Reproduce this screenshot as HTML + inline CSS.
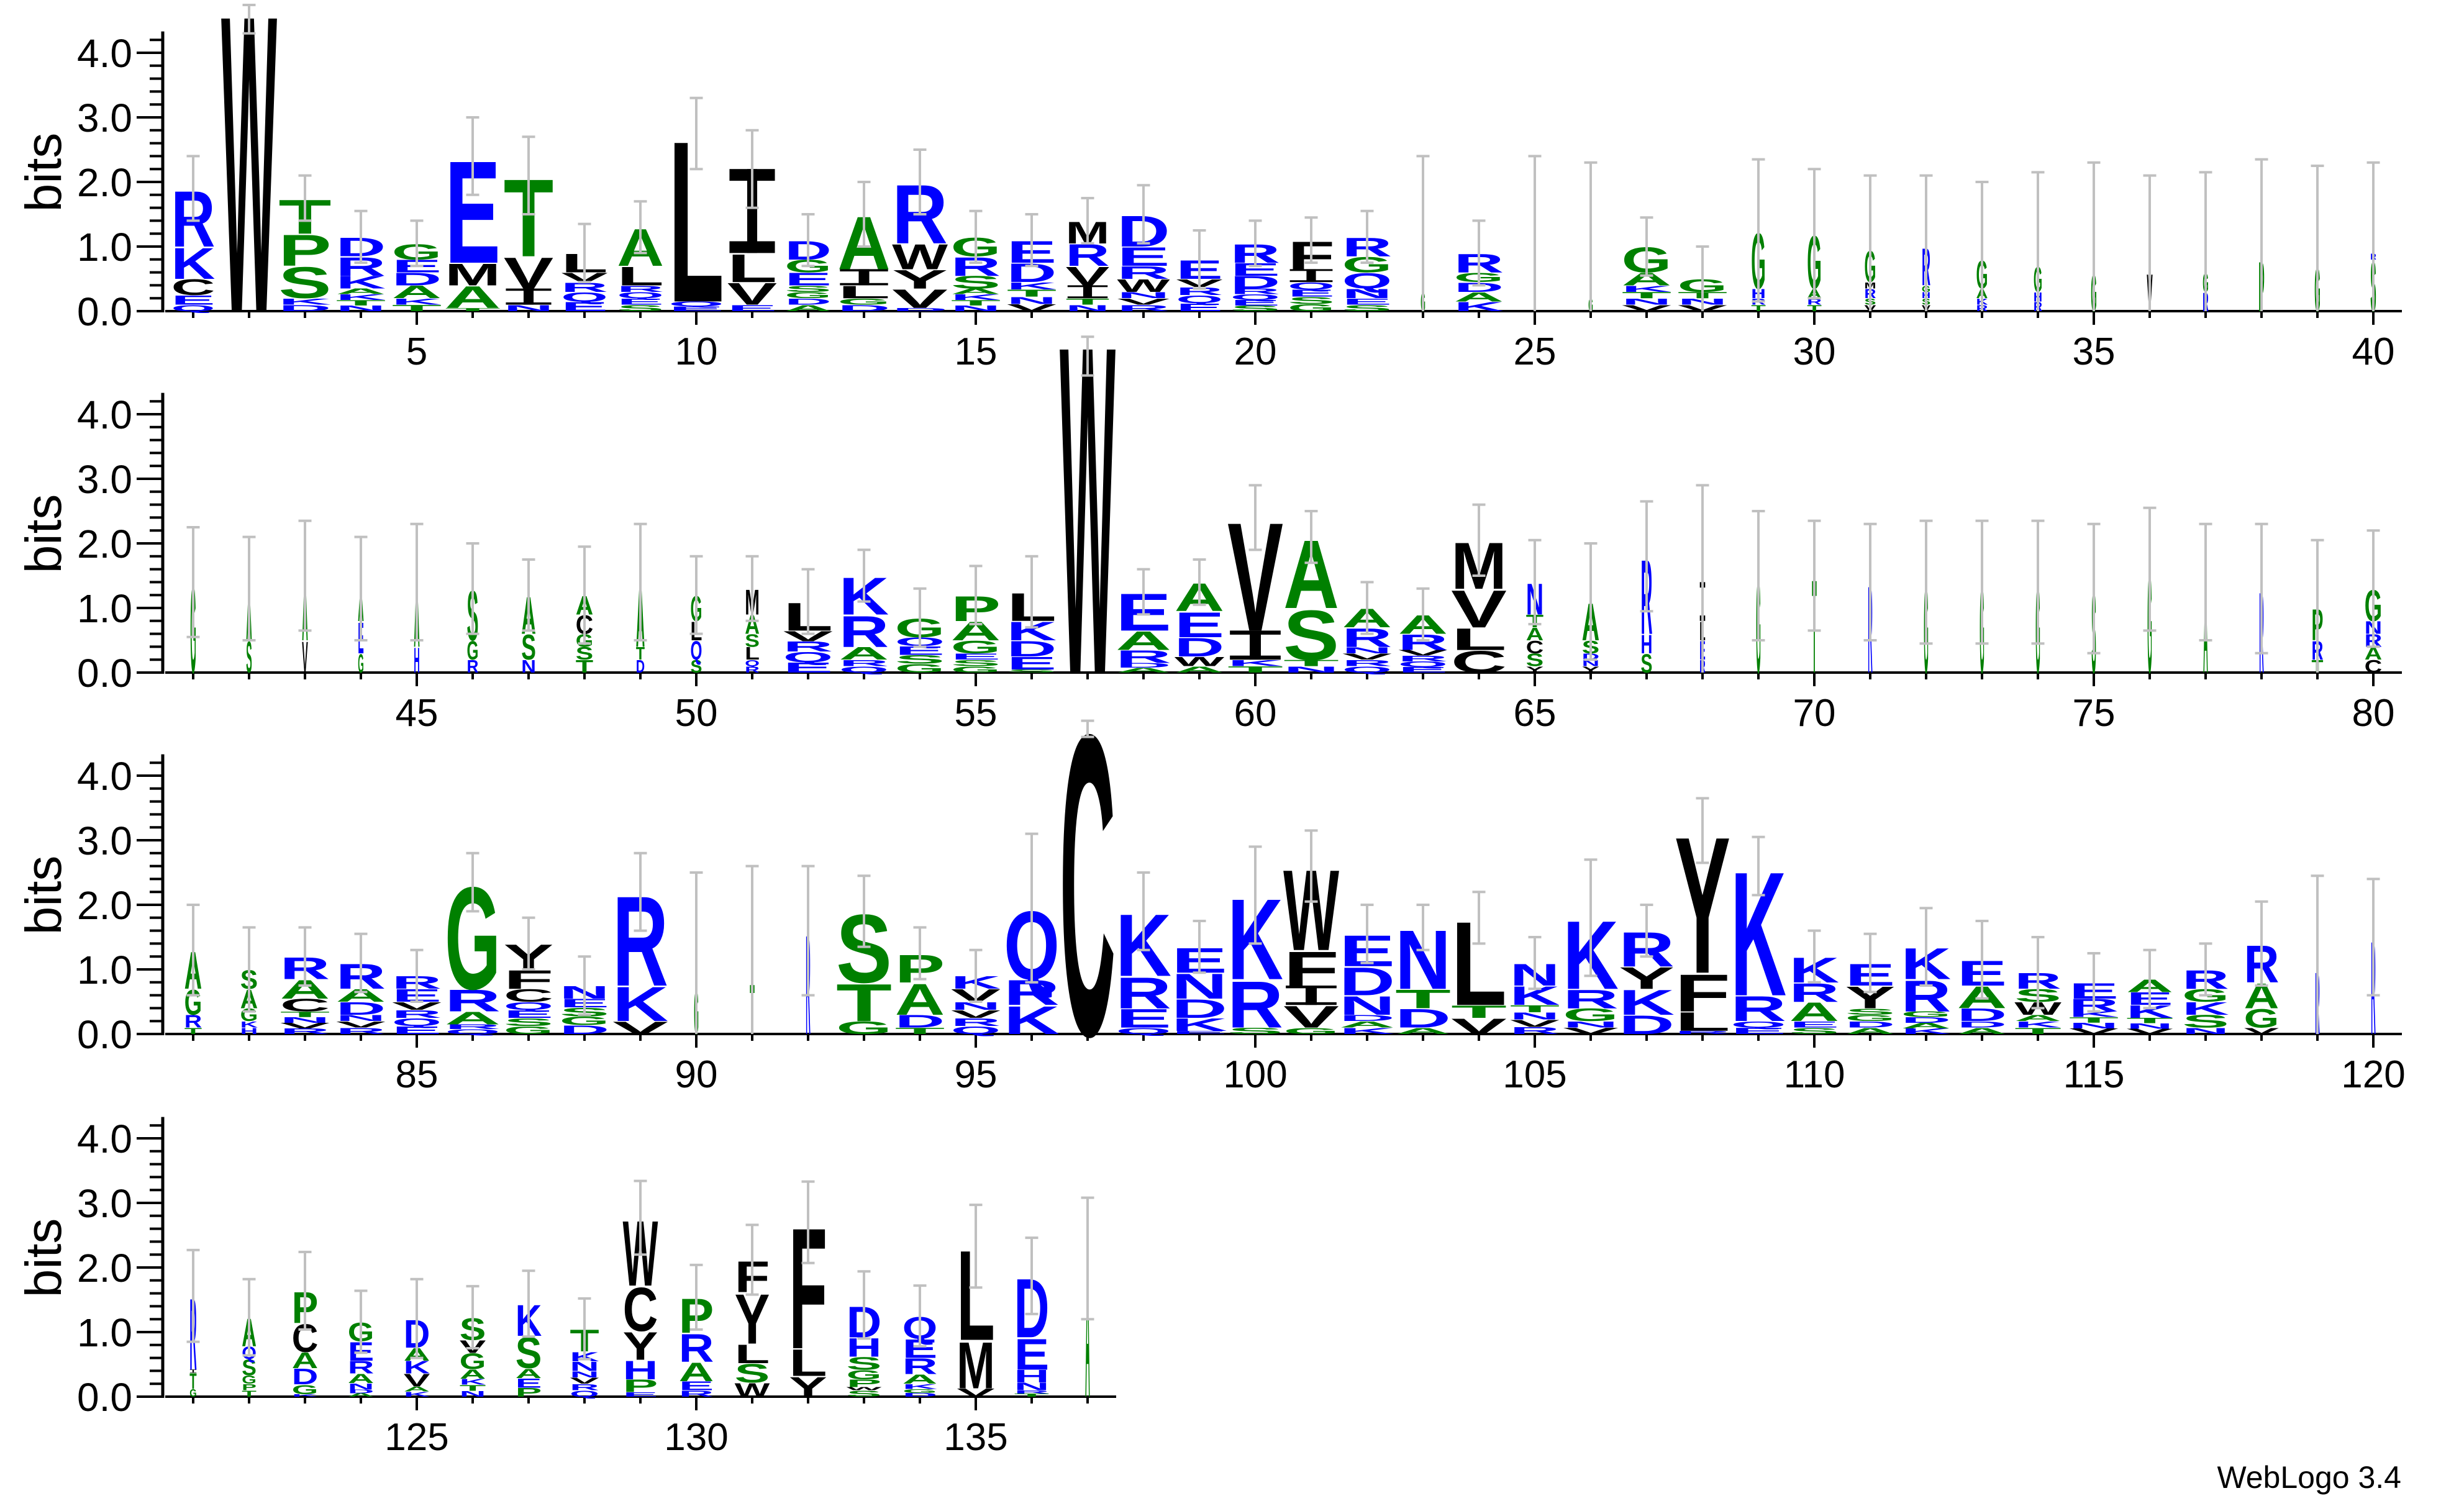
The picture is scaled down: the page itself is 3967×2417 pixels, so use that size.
<!DOCTYPE html>
<html><head><meta charset="utf-8">
<style>
html,body{margin:0;padding:0;background:#fff;}
svg{display:block;}
</style></head>
<body>
<svg id="s" xmlns="http://www.w3.org/2000/svg" width="3967" height="2417" viewBox="0 0 3967 2417" font-family="'Liberation Sans', Arial, sans-serif"></svg>
<script>
var D={
1:".75|2.4|R:.9 K:.5 C:.25 E:.15 Q:.1",
2:".95|4.74;4.3|W:4.8",
3:".9|2.1|T:.55 P:.5 S:.5 K:.1 X:.1",
4:".85|1.55|D:.3 R:.3 K:.2 X:.35",
5:".85|1.4|G:.25 E:.2 D:.2 A:.2 X:.2",
6:".95|3.0|E:1.65 M:.35 A:.35 X:.05",
7:".85|2.7|T:1.25 V:.5 I:.25 X:.1",
8:".8|1.35|L:.3 X:.6",
9:".8|1.7|A:.6 L:.3 X:.4",
10:".95|3.3|L:2.6 X:.15",
11:".85|2.8|I:1.3 L:.45 V:.35 X:.1",
12:".8|1.5|D:.3 G:.2 E:.2 X:.4",
13:".9|2.0|A:.85 I:.25 L:.2 X:.2",
14:".95|2.5|R:.95 W:.4 Y:.3 V:.3 X:.05",
15:".85|1.55|G:.3 R:.3 S:.2 X:.35",
16:".85|1.5|E:.35 D:.3 X:.45",
17:".75|1.75|M:.35 R:.35 V:.3 I:.2 X:.2",
18:".9|1.95|D:.5 E:.3 R:.2 W:.2 X:.3",
19:".8|1.25|E:.3 X:.5",
20:".85|1.4|R:.3 E:.2 D:.2 X:.35",
21:".8|1.45|F:.45 I:.2 X:.45",
22:".85|1.55|R:.3 G:.25 Q:.25 N:.15 X:.2",
23:".08|2.4|G:.3",
24:".85|1.4|R:.3 X:.6",
25:".05|2.4|X:.1",
26:".08|2.3|G:.2",
27:".85|1.45|G:.4 A:.2 X:.4",
28:".85|1.0|G:.2 X:.3",
29:".25|2.35|G:.9 H:.15 R:.1 T:.1",
30:".25|2.2|G:.85 A:.15 R:.1 T:.1",
31:".2|2.1|G:.5 M:.1 R:.15 S:.1 V:.1",
32:".15|2.1|R:.6 G:.1 H:.1 S:.1 V:.1",
33:".2|2.0|G:.45 A:.15 K:.1 R:.1",
34:".15|2.15|G:.4 H:.15 R:.15",
35:".1|2.3|G:.6",
36:".1|2.1|V:.6",
37:".1|2.15|G:.3 R:.3",
38:".1|2.35|P:.8",
39:".1|2.25|G:.7",
40:".1|2.3|R:.1 S:.8",
41:".1|2.25|G:1.4",
42:".1|2.1|A:.8 S:.5",
43:".1|2.35|A:1.0 V:.5",
44:".1|2.1|A:.5 E:.5 G:.3",
45:".1|2.3|A:1.0 H:.4",
46:".2|2.0|S:.8 G:.3 R:.2",
47:".25|1.75|A:.6 S:.4 N:.2",
48:".3|1.95|A:.3 C:.3 G:.2 S:.2 T:.2",
49:".15|2.3|A:1.0 T:.2 D:.2",
50:".2|1.8|G:.4 L:.3 Q:.3 S:.2",
51:".25|1.8|M:.4 A:.3 S:.2 L:.2 Q:.1 R:.1",
52:".85|1.6|L:.45 X:.65",
53:".85|1.9|K:.6 R:.5 A:.2 X:.2",
54:".85|1.3|G:.3 X:.55",
55:".85|1.65|P:.4 A:.3 G:.2 X:.3",
56:".85|1.8|L:.45 K:.3 D:.25 E:.2 X:.05",
57:".95|5.2;4.6|W:5.3",
58:".95|1.6|E:.6 A:.3 R:.2 X:.15",
59:".85|1.75|A:.45 E:.4 D:.3 W:.15 X:.1",
60:".95|2.9|V:1.75 I:.45 X:.2",
61:".95|2.5|A:1.1 S:.8 X:.2",
62:".85|1.4|A:.3 R:.3 X:.4",
63:".85|1.3|A:.3 R:.25 X:.35",
64:".95|2.6|M:.75 V:.6 L:.35 C:.35",
65:".3|2.05|N:.5 T:.2 A:.2 C:.2 S:.2 Y:.1",
66:".3|2.0|A:.6 S:.2 D:.1 N:.1 Y:.1",
67:".2|2.65|R:1.2 H:.3 S:.3",
68:".1|2.9|I:.6 L:.3 E:.3 R:.2",
69:".08|2.5|G:1.5",70:".08|2.35|T:1.5",71:".08|2.3|R:1.4",72:".08|2.35|G:1.4",
73:".08|2.35|G:1.4",74:".08|2.35|G:1.4",75:".08|2.3|S:1.3",76:".08|2.55|G:1.6",
77:".08|2.3|A:1.4",78:".08|2.3|R:1.3",
79:".2|2.05|P:.5 R:.3 T:.2",
80:".3|2.2|G:.5 N:.2 R:.2 A:.2 C:.2",
81:".3|2.0|A:.6 G:.4 R:.2 T:.1",
82:".3|1.65|S:.3 A:.3 G:.2 K:.1 H:.1",
83:".85|1.65|R:.35 A:.3 C:.2 X:.35",
84:".85|1.55|R:.4 A:.2 D:.2 X:.3",
85:".85|1.3|R:.2 E:.2 X:.5",
86:".95|2.8|G:1.65 R:.35 A:.2 X:.15",
87:".85|1.8|Y:.4 F:.3 C:.2 X:.5",
88:".85|1.2|N:.2 X:.55",
89:".95|2.8|R:1.45 K:.55 V:.2",
90:".08|2.5|G:.7",91:".08|2.6|T:.8",92:".08|2.6|R:1.6",
93:".95|2.45|S:1.1 T:.6 G:.2",
94:".85|1.65|P:.45 A:.5 D:.2 X:.1",
95:".85|1.3|K:.2 V:.2 X:.5",
96:".95|3.1|Q:1.1 R:.4 K:.45",
97:".95|4.85;4.6|C:4.85",
98:".95|2.5|K:1.0 R:.5 E:.3 X:.1",
99:".95|1.75|E:.4 N:.4 D:.3 K:.2 X:.05",
100:".95|2.9|K:1.3 R:.75 X:.1",
101:".95|3.15|W:1.3 F:.55 I:.3 V:.35 X:.1",
102:".95|2.0|E:.5 D:.45 N:.3 X:.3",
103:".95|2.0|N:.95 T:.3 D:.3 X:.1",
104:".95|2.2|L:1.35 T:.2 V:.25",
105:".85|1.5|N:.35 K:.3 X:.45",
106:".95|2.7|K:1.1 R:.3 G:.2 X:.2",
107:".95|2.0|R:.55 Y:.35 K:.4 D:.3",
108:".95|3.65|Y:2.2 F:.6 L:.3 X:.05",
109:".95|3.05|K:2.0 R:.4 X:.2",
110:".85|1.6|K:.4 R:.3 A:.3 X:.2",
111:".85|1.55|E:.35 Y:.35 X:.4",
112:".85|1.95|K:.5 R:.5 X:.35",
113:".85|1.75|E:.4 A:.35 D:.2 X:.2",
114:".8|1.5|R:.25 S:.2 W:.2 X:.3",
115:".85|1.25|E:.25 R:.2 X:.35",
116:".8|1.3|A:.2 E:.2 K:.2 X:.25",
117:".8|1.4|R:.3 G:.2 K:.2 S:.2 X:.1",
118:".6|2.05|R:.6 A:.4 G:.3 X:.1",
119:".08|2.45|R:1.0",
120:".08|2.4|R:1.5",
121:".12|2.27;.85|R:1.15 I:.05 T:.25 G:.12",
122:".25|1.82|A:.45 Q:.2 S:.25 G:.13 P:.1 T:.1",
123:".45|2.24|P:.5 C:.45 A:.25 D:.25 G:.15 K:.04",
124:".45|1.64|G:.3 E:.3 R:.2 A:.15 N:.1 X:.11",
125:".45|1.82|D:.45 A:.2 K:.2 V:.2 X:.16",
126:".45|1.71|S:.35 V:.2 G:.25 A:.15 X:.28",
127:".45|1.95|K:.5 S:.5 A:.15 E:.15 P:.14",
128:".5|1.52|T:.35 K:.15 N:.15 X:.4",
129:".6|3.34|W:1.05 C:.7 Y:.45 H:.3 P:.2 E:.07",
130:".6|2.04|P:.55 R:.45 A:.3 E:.14 X:.1",
131:".6|2.66|F:.5 Y:.8 L:.3 S:.3 W:.22",
132:".65|3.33|F:1.95 L:.43 Y:.32",
133:".6|1.94|D:.5 H:.3 S:.2 G:.15 P:.12 W:.05 X:.1",
134:".6|1.72|Q:.35 E:.3 R:.25 A:.15 K:.08 X:.12",
135:".65|2.97|L:1.45 M:.75 V:.13",
136:".6|2.46|D:.95 E:.5 H:.2 N:.12 R:.05 T:.05",
137:".08|3.08;1.2|A:2.1"
};
var BL="RKHDEQN",GR="AGPST";
function col(c){return BL.indexOf(c)>=0?"#0000ff":(GR.indexOf(c)>=0?"#008000":"#000000");}
var rows=[{b:501,s:1,e:40,end:3867},{b:1083,s:41,e:80,end:3867},{b:1665,s:81,e:120,end:3867},{b:2249,s:121,e:137,end:1797}];
var B=104,out=[];
var junk="ESGDAKTNVRQ";
rows.forEach(function(r){
  var b=r.b;
  out.push('<line x1="262" y1="'+(b+2)+'" x2="262" y2="'+(b-4.33*B)+'" stroke="#000" stroke-width="5"/>');
  for(var i=0;i<=21;i++){
    var y=b-i*0.2*B, maj=(i%5==0);
    out.push('<line x1="'+(maj?220:241)+'" y1="'+y+'" x2="262" y2="'+y+'" stroke="#000" stroke-width="4"/>');
    if(maj)out.push('<text x="213" y="'+(y+23)+'" font-size="64" text-anchor="end">'+(i/5).toFixed(1)+'</text>');
  }
  out.push('<text transform="translate(98,'+(b-2.15*B)+') rotate(-90)" font-size="82" text-anchor="middle">bits</text>');
  out.push('<line x1="266" y1="'+b+'" x2="'+r.end+'" y2="'+b+'" stroke="#000" stroke-width="4"/>');
  for(var p=r.s;p<=r.e;p++){
    var x=311+((p-1)%40)*90, maj=(p%5==0);
    out.push('<line x1="'+x+'" y1="'+b+'" x2="'+x+'" y2="'+(b+(maj?22:11))+'" stroke="#000" stroke-width="4"/>');
    if(maj)out.push('<text x="'+x+'" y="'+(b+86)+'" font-size="62" text-anchor="middle">'+p+'</text>');
    var parts=D[p].split("|"),f=parseFloat(parts[0]),eb=parts[1].split(";"),hi=parseFloat(eb[0]);
    var lets=[];
    parts[2].split(" ").forEach(function(t){var q=t.split(":"),h=parseFloat(q[1]);
      if(q[0]=="X"){var k=Math.max(1,Math.min(4,Math.ceil(h/0.1)));for(var j=0;j<k;j++)lets.push([junk[(p+j)%junk.length],h/k]);}
      else lets.push([q[0],h]);});
    var top=0;lets.forEach(function(l){top+=l[1];});
    var w=f*86,y=b;
    for(var j=lets.length-1;j>=0;j--){
      var L=lets[j][0],h=lets[j][1]*B,c=col(L);
      if(L=="I"){
        var bh=Math.max(0.5,h*0.14),sw=Math.max(0.5,w*0.22);
        out.push('<rect x="'+(x-w/2)+'" y="'+(y-bh)+'" width="'+w+'" height="'+bh+'" fill="'+c+'"/>');
        out.push('<rect x="'+(x-w/2)+'" y="'+(y-h)+'" width="'+w+'" height="'+bh+'" fill="'+c+'"/>');
        out.push('<rect x="'+(x-sw/2)+'" y="'+(y-h)+'" width="'+sw+'" height="'+h+'" fill="'+c+'"/>');
      } else {
        var ww=w*1.1,x0=x-ww/2;
        out.push('<text transform="translate('+x0.toFixed(1)+','+y.toFixed(1)+') scale('+(ww/100).toFixed(4)+','+(h/72.9).toFixed(4)+')" font-size="100" font-weight="bold" textLength="100" lengthAdjust="spacingAndGlyphs" fill="'+c+'">'+L+'</text>');
      }
      y-=h;
    }
    var lo=eb.length>1?parseFloat(eb[1]):Math.max(0,2*top-hi);
    var yh=b-hi*B,yl=b-lo*B;
    out.push('<line x1="'+x+'" y1="'+yh+'" x2="'+x+'" y2="'+yl+'" stroke="#c0c0c0" stroke-width="4"/>');
    out.push('<line x1="'+(x-10.5)+'" y1="'+yh+'" x2="'+(x+10.5)+'" y2="'+yh+'" stroke="#c0c0c0" stroke-width="4"/>');
    if(lo>0)out.push('<line x1="'+(x-10.5)+'" y1="'+yl+'" x2="'+(x+10.5)+'" y2="'+yl+'" stroke="#c0c0c0" stroke-width="4"/>');
  }
});
out.push('<text x="3866" y="2396" font-size="50" text-anchor="end">WebLogo 3.4</text>');
document.getElementById("s").innerHTML=out.join("");
</script>
</body></html>
